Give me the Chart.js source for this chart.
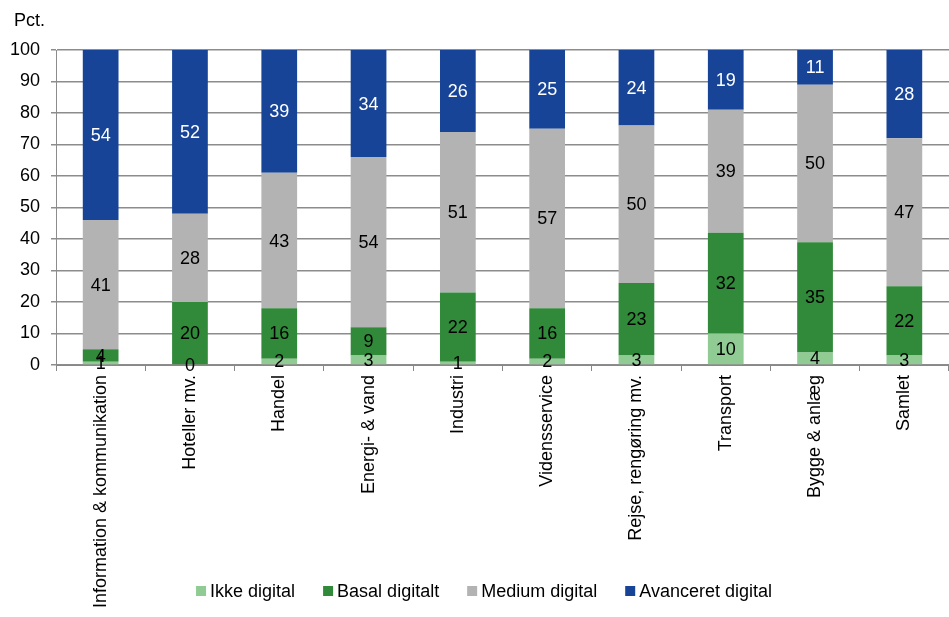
<!DOCTYPE html>
<html>
<head>
<meta charset="utf-8">
<script src="https://cdn.jsdelivr.net/npm/chart.js@4"></script>
<style>
html,body{margin:0;padding:0;background:#fff;}
#wrap{width:949px;height:617px;position:relative;}
</style>
</head>
<body>
<div id="wrap"><canvas id="c" width="949" height="617"></canvas></div>
<script>
const categories = ["Information & kommunikation","Hoteller mv.","Handel","Energi- & vand","Industri","Vidensservice","Rejse, rengøring mv.","Transport","Bygge & anlæg","Samlet"];
const ikkeDigital = [1,0,2,3,1,2,3,10,4,3];
const basalDigitalt = [4,20,16,9,22,16,23,32,35,22];
const mediumDigital = [41,28,43,54,51,57,50,39,50,47];
const avanceretDigital = [54,52,39,34,26,25,24,19,11,28];
const seriesNames = ["Ikke digital","Basal digitalt","Medium digital","Avanceret digital"];
const yTicks = [0,10,20,30,40,50,60,70,80,90,100];
const unitLabel = "Pct.";

const FONT = "'Liberation Sans', Arial, sans-serif";
const FS = 18;

const labelPlugin = {
  id: 'valueLabels',
  afterDatasetsDraw(chart) {
    const ctx = chart.ctx;
    ctx.save();
    ctx.font = FS + "px " + FONT;
    ctx.textAlign = 'center';
    ctx.textBaseline = 'middle';
    chart.data.datasets.forEach((ds, di) => {
      const meta = chart.getDatasetMeta(di);
      meta.data.forEach((el, i) => {
        const v = ds.data[i];
        const y = (el.y + el.base) / 2;
        ctx.fillStyle = ds.labelColor;
        ctx.fillText(String(v), el.x, y + 1);
      });
    });
    ctx.restore();
  }
};

const extrasPlugin = {
  id: 'extras',
  afterDraw(chart) {
    const ctx = chart.ctx;
    ctx.save();
    ctx.font = FS + "px " + FONT;
    ctx.fillStyle = '#000';
    ctx.textAlign = 'left';
    ctx.textBaseline = 'middle';
    ctx.fillText(unitLabel, 14, 21);
    // legend
    const ds = chart.data.datasets;
    const box = 10, gapBT = 4, gapItems = 28;
    const widths = ds.map(d => box + gapBT + ctx.measureText(d.label).width);
    const total = widths.reduce((a, b) => a + b, 0) + gapItems * (ds.length - 1);
    let x = 484 - total / 2;
    const yc = 591;
    ds.forEach((d, i) => {
      ctx.fillStyle = d.backgroundColor;
      ctx.fillRect(x, yc - box / 2, box, box);
      ctx.fillStyle = '#000';
      ctx.fillText(d.label, x + box + gapBT, yc + 1);
      x += widths[i] + gapItems;
    });
    ctx.restore();
  }
};

new Chart(document.getElementById('c'), {
  type: 'bar',
  data: {
    labels: categories,
    datasets: [
      {label: seriesNames[0], data: ikkeDigital, backgroundColor: '#8fcb93', labelColor: '#000'},
      {label: seriesNames[1], data: basalDigitalt, backgroundColor: '#31893a', labelColor: '#000'},
      {label: seriesNames[2], data: mediumDigital, backgroundColor: '#b3b3b3', labelColor: '#000'},
      {label: seriesNames[3], data: avanceretDigital, backgroundColor: '#174497', labelColor: '#fff'}
    ]
  },
  options: {
    responsive: false,
    animation: false,
    devicePixelRatio: 1,
    layout: {padding: {top: 50, right: -7, left: 0, bottom: 0}},
    datasets: {bar: {barPercentage: 0.8, categoryPercentage: 0.5, borderWidth: 0}},
    plugins: {
      legend: {display: false},
      tooltip: {enabled: false}
    },
    scales: {
      x: {
        stacked: true,
        afterFit(axis) { axis.height = 252; },
        grid: {display: true, drawOnChartArea: false, offset: true, color: '#888', tickLength: 6},
        border: {display: true, color: '#888'},
        ticks: {
          color: '#000',
          font: {size: FS, family: FONT},
          minRotation: 90,
          maxRotation: 90,
          padding: 4,
          autoSkip: false
        }
      },
      y: {
        stacked: true,
        min: 0,
        max: 100,
        afterFit(axis) { axis.width = 56; },
        afterBuildTicks(axis) { axis.ticks = yTicks.map(v => ({value: v})); },
        grid: {color: '#8c8c8c', lineWidth: 1.5, tickLength: 5},
        border: {display: true, color: '#8c8c8c'},
        ticks: {
          color: '#000',
          font: {size: FS, family: FONT},
          padding: 11
        }
      }
    }
  },
  plugins: [labelPlugin, extrasPlugin]
});
</script>
</body>
</html>
